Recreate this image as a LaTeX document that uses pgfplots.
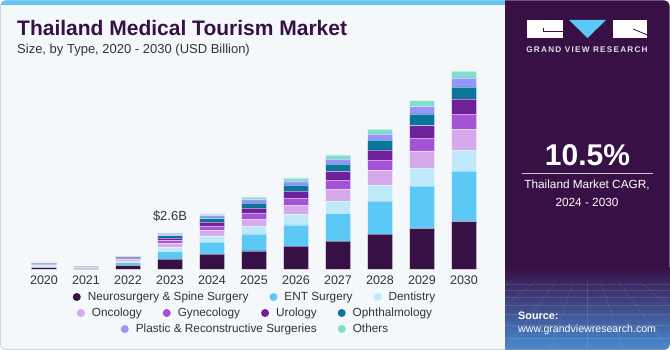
\documentclass[border=0pt]{standalone}
\usepackage{fontspec}
\setmainfont{Liberation Sans}
\usepackage{pgfplots}
\usepackage{pgfplotstable}
\pgfplotsset{compat=1.18}
\definecolor{cNeuro}{HTML}{371046}
\definecolor{cENT}{HTML}{5BC8F5}
\definecolor{cDent}{HTML}{BFE9F9}
\definecolor{cOnc}{HTML}{D5A9EC}
\definecolor{cGyn}{HTML}{A452D6}
\definecolor{cUro}{HTML}{6D2299}
\definecolor{cOph}{HTML}{0A769C}
\definecolor{cPla}{HTML}{9696F9}
\definecolor{cOth}{HTML}{7FDFCB}
\definecolor{bgmain}{HTML}{F4F8FB}
\definecolor{bordergray}{HTML}{D0D4D8}
\definecolor{strip}{HTML}{62C6F2}
\definecolor{panel}{HTML}{371046}
\definecolor{gvrblue}{HTML}{4A8CD2}
\definecolor{textgray}{HTML}{333333}
\definecolor{titlec}{HTML}{371046}

\pgfplotstableread{
x neuro ent dent onc gyn uro oph pla oth
0 0.13 0.10 0.05 0.05 0.04 0.04 0.03 0.02 0.02
1 0.06 0.04 0.02 0.02 0.02 0.02 0.01 0.01 0.01
2 0.30 0.20 0.10 0.10 0.07 0.06 0.06 0.04 0.02
3 0.74 0.55 0.29 0.29 0.21 0.17 0.17 0.12 0.07
4 1.10 0.86 0.45 0.40 0.31 0.29 0.24 0.21 0.12
5 1.33 1.21 0.55 0.50 0.45 0.36 0.36 0.24 0.19
6 1.67 1.52 0.74 0.67 0.50 0.50 0.45 0.26 0.24
7 2.02 1.98 0.88 0.86 0.64 0.62 0.55 0.33 0.31
8 2.52 2.36 1.14 1.05 0.74 0.74 0.69 0.45 0.33
9 2.93 3.02 1.29 1.24 0.90 0.90 0.83 0.55 0.40
10 3.43 3.60 1.50 1.50 1.07 1.07 0.88 0.64 0.48
}\datatable

\pgfplotsset{
  legcirc/.style={legend image code/.code={\fill[##1, draw=none] (0pt,0pt) circle (4pt);}},
  legrow/.style={hide axis, scale only axis, width=10pt, height=10pt,
    xmin=0, xmax=1, ymin=0, ymax=1, anchor=center, legcirc,
    legend columns=-1,
    legend style={at={(0.5,0.5)}, anchor=center, draw=none, fill=none,
      inner sep=0pt, font=\fontsize{11.8}{14}\selectfont,
      nodes={inner sep=0pt, text=textgray},
      /tikz/every odd column/.append style={column sep=7pt},
      /tikz/every even column/.append style={column sep=21pt}}},
}

\begin{document}
\begin{tikzpicture}[x=1pt,y=1pt]
\useasboundingbox (0,0) rectangle (670,350);
% backgrounds
\fill[bgmain, draw=bordergray, line width=0.8pt, rounded corners=5pt] (0.5,0.5) rectangle (669.5,349.5);
\begin{scope}
\clip[rounded corners=5pt] (0.5,0.5) rectangle (669.5,349.5);
\fill[strip] (0,345) rectangle (505,350);
\fill[panel] (505,0) rectangle (670,350);
\shade[top color=panel, bottom color=gvrblue] (505,0) rectangle (670,82);
\begin{scope}
\clip (505,0) rectangle (670,68);
\foreach \yy in {66,60,53,45,36,25,12} {\draw[white, opacity=0.12, line width=0.4pt] (505,\yy) -- (670,\yy);}
\foreach \xx in {-300,-220,-150,-90,-40,0,40,90,150,220,300,400} {\draw[white, opacity=0.12, line width=0.4pt] (587,110) -- (587+\xx,-10);}
\end{scope}
\end{scope}

% title
\node[anchor=base west, inner sep=0pt, text=titlec, font=\fontsize{21}{24}\selectfont\bfseries] at (17,314.3) {Thailand Medical Tourism Market};
\node[anchor=base west, inner sep=0pt, text=textgray, font=\fontsize{13}{15}\selectfont] at (17,296.7) {Size, by Type, 2020 - 2030 (USD Billion)};

% logo
\fill[white] (527,330) rectangle (563,312);
\draw[panel, line width=0.8pt] (543,318.5) -- (563.5,318.5);
\draw[panel, line width=0.8pt] (543,318.5) -- (543,322);
\fill[cENT] (569,330) -- (606,330) -- (587.5,312) -- cycle;
\fill[white] (613,330) rectangle (647,312);
\draw[panel, line width=0.8pt] (633,321) -- (647.5,315);
\node[text=white!88!panel, font=\fontsize{8.2}{10}\selectfont\bfseries\addfontfeature{LetterSpace=15}] at (587,300) {GRAND VIEW RESEARCH};

% CAGR
\node[text=white, font=\fontsize{30}{34}\selectfont\bfseries] at (587.5,195) {10.5\%};
\draw[white!75!panel, line width=1pt] (522,176.7) -- (653,176.7);
\node[text=white, font=\fontsize{11.8}{14}\selectfont] at (587,165) {Thailand Market CAGR,};
\node[text=white, font=\fontsize{11.8}{14}\selectfont] at (587,148) {2024 - 2030};

% source
\node[anchor=west, inner sep=0pt, text=white, font=\fontsize{10.8}{13}\selectfont\bfseries] at (518,34) {Source:};
\node[anchor=west, inner sep=0pt, text=white, font=\fontsize{10.6}{13}\selectfont] at (518,20) {www.grandviewresearch.com};

% main chart
\begin{axis}[
  at={(23pt,80.5pt)}, anchor=south west,
  x=42pt, y=14pt,
  xmin=-0.5, xmax=10.5, ymin=0, ymax=14.5,
  enlargelimits=false,
  ybar stacked, bar width=25pt,
  axis line style={draw=none},
  major tick length=0pt,
  ytick=\empty,
  xtick={0,1,2,3,4,5,6,7,8,9,10},
  xticklabels={2020,2021,2022,2023,2024,2025,2026,2027,2028,2029,2030},
  xticklabel style={inner sep=0pt, yshift=-6pt, text=textgray, font=\fontsize{12.5}{14}\selectfont},
  clip=false,
  every axis plot/.append style={draw=white, draw opacity=0.45, line width=0.4pt},
]
\addplot[fill=cNeuro] table[x=x,y=neuro] {\datatable};
\addplot[fill=cENT] table[x=x,y=ent] {\datatable};
\addplot[fill=cDent] table[x=x,y=dent] {\datatable};
\addplot[fill=cOnc] table[x=x,y=onc] {\datatable};
\addplot[fill=cGyn] table[x=x,y=gyn] {\datatable};
\addplot[fill=cUro] table[x=x,y=uro] {\datatable};
\addplot[fill=cOph] table[x=x,y=oph] {\datatable};
\addplot[fill=cPla] table[x=x,y=pla] {\datatable};
\addplot[fill=cOth] table[x=x,y=oth] {\datatable};
\node[anchor=base, inner sep=0pt, text=textgray, font=\fontsize{13}{15}\selectfont, yshift=12.3pt] at (axis cs:3,2.61) {\$2.6B};
\end{axis}

% legends
\begin{axis}[legrow, at={(254pt,53pt)}]
\addlegendimage{fill=cNeuro, draw=none}\addlegendentry{Neurosurgery \& Spine Surgery}
\addlegendimage{fill=cENT, draw=none}\addlegendentry{ENT Surgery}
\addlegendimage{fill=cDent, draw=none}\addlegendentry{Dentistry}
\end{axis}
\begin{axis}[legrow, at={(254.5pt,37pt)}]
\addlegendimage{fill=cOnc, draw=none}\addlegendentry{Oncology}
\addlegendimage{fill=cGyn, draw=none}\addlegendentry{Gynecology}
\addlegendimage{fill=cUro, draw=none}\addlegendentry{Urology}
\addlegendimage{fill=cOph, draw=none}\addlegendentry{Ophthalmology}
\end{axis}
\begin{axis}[legrow, at={(254.5pt,21pt)}]
\addlegendimage{fill=cPla, draw=none}\addlegendentry{Plastic \& Reconstructive Surgeries}
\addlegendimage{fill=cOth, draw=none}\addlegendentry{Others}
\end{axis}
\end{tikzpicture}
\end{document}
